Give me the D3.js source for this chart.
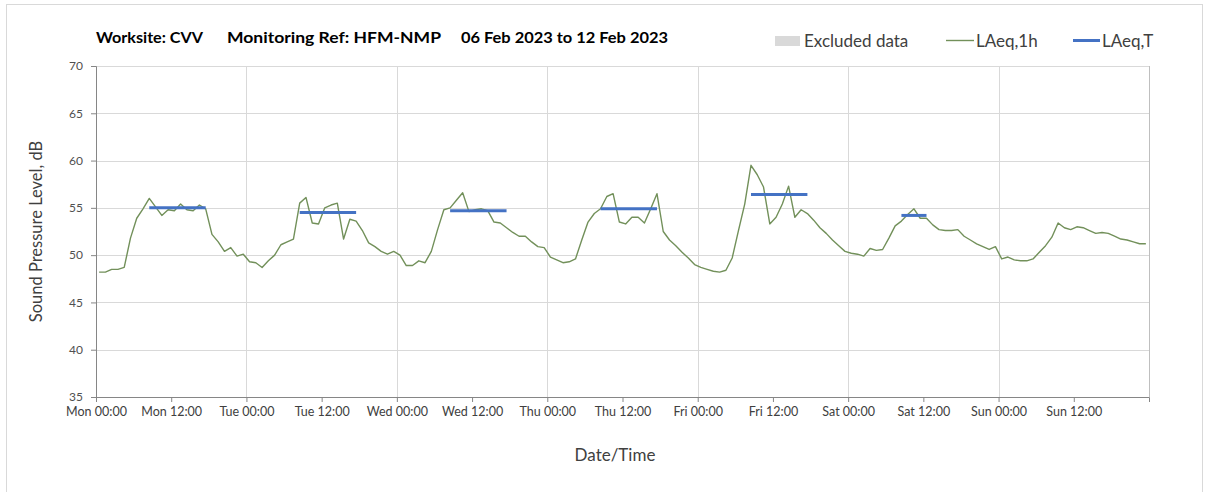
<!DOCTYPE html>
<html>
<head>
<meta charset="utf-8">
<script src="https://cdn.jsdelivr.net/npm/d3@7"></script>
<style>
  html, body { margin: 0; padding: 0; background: #fff; }
  svg { display: block; font-family: Lato, "Open Sans", sans-serif; }
</style>
</head>
<body>
<svg id="chart" width="1208" height="492"></svg>
<script>
// hourly LAeq,1h values, one array per day (plotted at mid-hour)
var mon = [48.2, 48.2, 48.5, 48.5, 48.7, 51.8, 53.9, 54.9, 56.0, 55.1, 54.2, 54.8, 54.7, 55.4, 54.8, 54.7, 55.3, 54.9, 52.2, 51.4, 50.4, 50.8, 49.9, 50.1]
var tue = [49.3, 49.2, 48.7, 49.4, 50.0, 51.1, 51.4, 51.7, 55.5, 56.1, 53.4, 53.3, 55.0, 55.3, 55.5, 51.7, 53.8, 53.6, 52.6, 51.3, 50.9, 50.4, 50.1, 50.4]
var wed = [50.0, 48.9, 48.9, 49.4, 49.2, 50.4, 52.7, 54.8, 55.0, 55.8, 56.6, 54.6, 54.8, 54.9, 54.7, 53.5, 53.4, 52.9, 52.4, 52.0, 52.0, 51.4, 50.9, 50.8]
var thu = [49.8, 49.5, 49.2, 49.3, 49.6, 51.6, 53.5, 54.4, 54.9, 56.2, 56.5, 53.5, 53.3, 54.0, 54.0, 53.4, 54.9, 56.5, 52.5, 51.6, 51.0, 50.3, 49.7, 49.0]
var fri = [48.7, 48.5, 48.3, 48.2, 48.4, 49.7, 52.6, 55.4, 59.5, 58.5, 57.2, 53.3, 54.0, 55.4, 57.3, 54.0, 54.8, 54.4, 53.7, 52.9, 52.3, 51.6, 51.0, 50.4]
var sat = [50.2, 50.1, 49.9, 50.7, 50.5, 50.6, 51.8, 53.1, 53.6, 54.3, 54.9, 53.9, 53.9, 53.2, 52.7, 52.6, 52.6, 52.7, 52.0, 51.6, 51.2, 50.9, 50.6, 50.9]
var sun = [49.6, 49.8, 49.5, 49.4, 49.4, 49.6, 50.3, 51.0, 51.9, 53.4, 52.9, 52.7, 53.0, 52.9, 52.6, 52.3, 52.4, 52.3, 52.0, 51.7, 51.6, 51.4, 51.2, 51.2]

// LAeq,T periods: day index, first and last hour, level
var periodDay = [0, 1, 2, 3, 4, 5]
var periodFrom = [8, 8, 8, 8, 8, 8]
var periodTo = [17, 17, 17, 17, 17, 12]
var periodLevel = [55.0, 54.5, 54.7, 54.9, 56.4, 54.2]

var dayNames = ['Mon', 'Tue', 'Wed', 'Thu', 'Fri', 'Sat', 'Sun']
var yTicks = [35, 40, 45, 50, 55, 60, 65, 70]
var titleParts = ['Worksite: CVV', 'Monitoring Ref: HFM-NMP', '06 Feb 2023 to 12 Feb 2023']

var start = Date.UTC(2023, 1, 6)
var HOUR = 3600 * 1000

var hourly = [].concat(mon, tue, wed, thu, fri, sat, sun).map(function (v, i) {
  return { t: new Date(start + (i + 0.5) * HOUR), v: v }
})

var svg = d3.select('#chart')
var plotLeft = 96, plotRight = 1149, plotTop = 66, plotBottom = 397

var x = d3.scaleUtc()
  .domain([new Date(start), new Date(start + 168 * HOUR)])
  .range([plotLeft, plotRight])
var y = d3.scaleLinear().domain([35, 70]).range([plotBottom, plotTop])

// outer frame
svg.append('rect')
  .attr('x', 6.5).attr('y', 4.5).attr('width', 1196).attr('height', 500)
  .attr('fill', 'none').attr('stroke', '#d9d9d9')

// horizontal gridlines
svg.append('g').selectAll('line')
  .data(yTicks.slice(1))
  .join('line')
  .attr('x1', plotLeft).attr('x2', plotRight)
  .attr('y1', function (d) { return Math.round(y(d)) + 0.5 })
  .attr('y2', function (d) { return Math.round(y(d)) + 0.5 })
  .attr('stroke', '#d9d9d9')

// vertical gridlines at day boundaries
var dayTicks = d3.range(1, 8).map(function (d) { return new Date(start + d * 24 * HOUR) })
svg.append('g').selectAll('line')
  .data(dayTicks)
  .join('line')
  .attr('x1', function (d) { return Math.round(x(d)) + 0.5 })
  .attr('x2', function (d) { return Math.round(x(d)) + 0.5 })
  .attr('y1', plotTop).attr('y2', plotBottom)
  .attr('stroke', function (d, i) { return i === 6 ? '#bfbfbf' : '#d9d9d9' })

// y axis
var yAxis = svg.append('g')
  .attr('transform', 'translate(' + plotLeft + ',0)')
  .call(d3.axisLeft(y).tickValues(yTicks).tickSize(5).tickPadding(8))
yAxis.select('.domain').attr('stroke', '#868686')
yAxis.selectAll('.tick line').attr('stroke', '#868686')
yAxis.selectAll('text').attr('fill', '#505050').style('font-size', '12px').style('font-family', 'Lato, sans-serif')

// x axis, ticks every 12h
var xTicks = d3.range(0, 14).map(function (i) { return new Date(start + i * 12 * HOUR) })
var xAxis = svg.append('g')
  .attr('transform', 'translate(0,' + plotBottom + ')')
  .call(d3.axisBottom(x).tickValues(xTicks).tickSize(5).tickPadding(5)
    .tickFormat(function (d) {
      var h = d.getUTCHours()
      return dayNames[(d.getUTCDay() + 6) % 7] + ' ' + (h < 10 ? '0' + h : h) + ':00'
    }))
xAxis.select('.domain').attr('stroke', '#868686')
xAxis.selectAll('.tick line').attr('stroke', '#868686')
xAxis.selectAll('text').attr('fill', '#404040').style('font-size', '12.5px').style('font-family', 'Lato, sans-serif')

// LAeq,1h
svg.append('path')
  .datum(hourly)
  .attr('fill', 'none')
  .attr('stroke', '#72905a')
  .attr('stroke-width', 1.4)
  .attr('stroke-linejoin', 'round')
  .attr('d', d3.line().x(function (d) { return x(d.t) }).y(function (d) { return y(d.v) }))

// LAeq,T
var periods = periodDay.map(function (d, i) {
  return {
    t0: new Date(start + (d * 24 + periodFrom[i] + 0.5) * HOUR),
    t1: new Date(start + (d * 24 + periodTo[i] + 0.5) * HOUR),
    v: periodLevel[i]
  }
})
svg.append('g').selectAll('line')
  .data(periods)
  .join('line')
  .attr('x1', function (d) { return x(d.t0) })
  .attr('x2', function (d) { return x(d.t1) })
  .attr('y1', function (d) { return y(d.v) })
  .attr('y2', function (d) { return y(d.v) })
  .attr('stroke', '#4472c4')
  .attr('stroke-width', 3)

// title, three parts stretched to the original widths
var titleX = [96, 227, 461]
var titleW = [107, 214, 207]
svg.append('g').selectAll('text')
  .data(titleParts)
  .join('text')
  .attr('x', function (d, i) { return titleX[i] })
  .attr('y', 43)
  .attr('textLength', function (d, i) { return titleW[i] })
  .attr('lengthAdjust', 'spacingAndGlyphs')
  .attr('fill', '#000')
  .style('font-weight', 'bold').style('font-size', '16px')
  .text(function (d) { return d })

// legend
var legend = svg.append('g').style('font-size', '17px').attr('fill', '#404040')
legend.append('rect').attr('x', 775).attr('y', 36).attr('width', 25).attr('height', 10).attr('fill', '#d9d9d9')
legend.append('text').attr('x', 804).attr('y', 47).text('Excluded data')
legend.append('line').attr('x1', 946).attr('x2', 974).attr('y1', 40.5).attr('y2', 40.5)
  .attr('stroke', '#72905a').attr('stroke-width', 1.4)
legend.append('text').attr('x', 976).attr('y', 47).text('LAeq,1h')
legend.append('line').attr('x1', 1073).attr('x2', 1100).attr('y1', 40.5).attr('y2', 40.5)
  .attr('stroke', '#4472c4').attr('stroke-width', 3)
legend.append('text').attr('x', 1102).attr('y', 47).text('LAeq,T')

// axis titles
svg.append('text')
  .attr('transform', 'translate(42,' + ((plotTop + plotBottom) / 2) + ') rotate(-90)')
  .attr('text-anchor', 'middle')
  .attr('fill', '#404040').style('font-size', '16.5px')
  .text('Sound Pressure Level, dB')
svg.append('text')
  .attr('x', 615).attr('y', 461)
  .attr('text-anchor', 'middle')
  .attr('fill', '#404040').style('font-size', '17px')
  .text('Date/Time')
</script>
</body>
</html>
